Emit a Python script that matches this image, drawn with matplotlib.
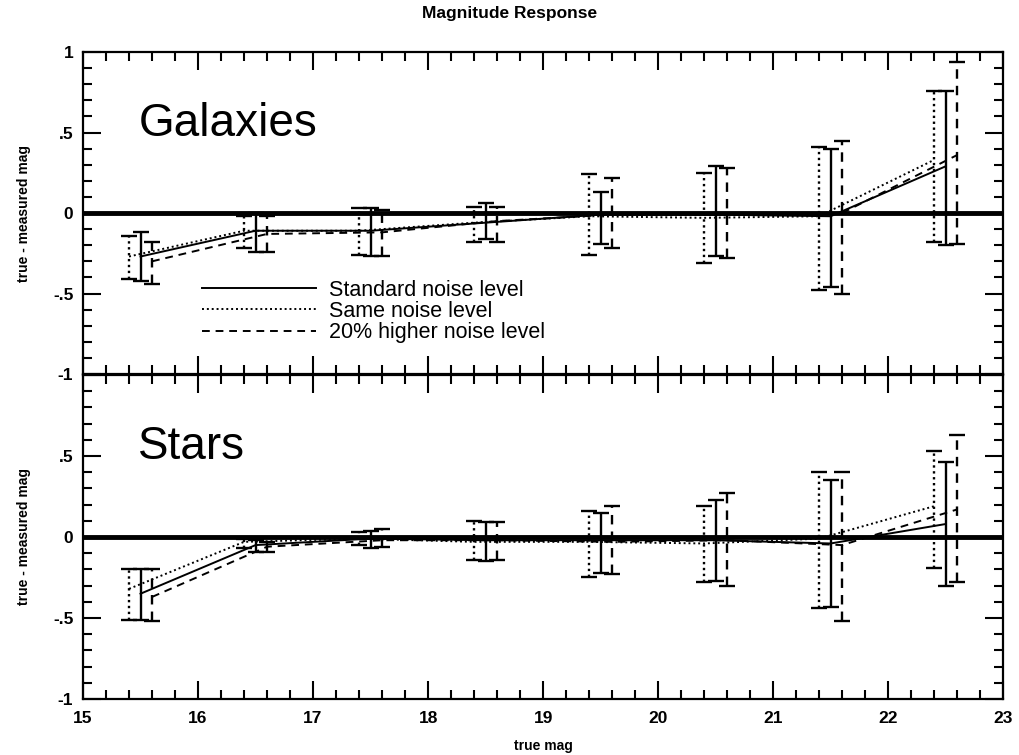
import numpy as np
import matplotlib
matplotlib.use("Agg")
import matplotlib.pyplot as plt
from matplotlib.ticker import MultipleLocator, FixedLocator

plt.rcParams['font.family'] = ['Liberation Sans', 'DejaVu Sans']

# bin centres (true mag)
mag_bins = [15.5, 16.5, 17.5, 18.5, 19.5, 20.5, 21.5, 22.5]

# Galaxies: mean offset and error-bar top/bottom for each noise setting
gal_std = [-0.27, -0.11, -0.11, -0.06, -0.01, -0.01, -0.02, 0.29]
gal_std_hi = [-0.12, 0.00, 0.03, 0.06, 0.13, 0.29, 0.40, 0.76]
gal_std_lo = [-0.42, -0.24, -0.27, -0.16, -0.19, -0.27, -0.46, -0.20]

gal_same = [-0.27, -0.11, -0.11, -0.06, -0.02, -0.03, -0.02, 0.33]
gal_same_hi = [-0.14, -0.02, 0.03, 0.04, 0.24, 0.25, 0.41, 0.76]
gal_same_lo = [-0.41, -0.22, -0.26, -0.18, -0.26, -0.31, -0.48, -0.18]

gal_high = [-0.30, -0.13, -0.12, -0.05, -0.01, -0.01, 0.00, 0.36]
gal_high_hi = [-0.18, -0.02, 0.02, 0.04, 0.22, 0.28, 0.45, 0.94]
gal_high_lo = [-0.44, -0.24, -0.27, -0.18, -0.22, -0.28, -0.50, -0.19]

# Stars
star_std = [-0.35, -0.05, -0.01, -0.02, -0.02, -0.02, -0.04, 0.08]
star_std_hi = [-0.20, -0.02, 0.04, 0.09, 0.15, 0.23, 0.35, 0.46]
star_std_lo = [-0.51, -0.09, -0.07, -0.15, -0.22, -0.27, -0.43, -0.30]

star_same = [-0.32, -0.03, -0.01, -0.03, -0.03, -0.04, -0.01, 0.19]
star_same_hi = [-0.20, -0.01, 0.03, 0.10, 0.16, 0.19, 0.40, 0.53]
star_same_lo = [-0.51, -0.07, -0.05, -0.14, -0.25, -0.28, -0.44, -0.19]

star_high = [-0.37, -0.06, -0.02, -0.02, -0.03, -0.02, -0.05, 0.17]
star_high_hi = [-0.20, -0.03, 0.05, 0.09, 0.19, 0.27, 0.40, 0.63]
star_high_lo = [-0.52, -0.09, -0.06, -0.14, -0.23, -0.30, -0.52, -0.28]

labels = ["Standard noise level", "Same noise level", "20% higher noise level"]
ytick_vals = [-1, -0.5, 0, 0.5, 1]
ytick_text = ["-1", "-.5", "0", ".5", "1"]

DOT = (0, (1, 1.5))
DASH = (0, (4, 3))


def draw_series(ax, x, y, hi, lo, ls, lw, label):
    x = np.asarray(x)
    y = np.asarray(y)
    hi = np.asarray(hi)
    lo = np.asarray(lo)
    ax.plot(x, y, color="k", ls=ls, lw=lw, label=label, zorder=4)
    eb = ax.errorbar(x, y, yerr=[y - lo, hi - y], fmt="none", ecolor="k",
                     elinewidth=1.7, capsize=6, capthick=1.7, zorder=4)
    eb[2][0].set_linestyle(ls)


def style_axes(ax, name):
    ax.set_xlim(15, 23)
    ax.set_ylim(-1, 1)
    ax.axhline(0, color="k", lw=3.5, zorder=3)
    ax.xaxis.set_major_locator(MultipleLocator(1))
    ax.xaxis.set_minor_locator(MultipleLocator(0.2))
    ax.yaxis.set_major_locator(FixedLocator(ytick_vals))
    ax.set_yticklabels(ytick_text)
    ax.yaxis.set_minor_locator(MultipleLocator(0.1))
    ax.tick_params(which="both", direction="in", top=True, right=True,
                   width=1.5, labelsize=12.5)
    ax.tick_params(axis="x", pad=9)
    ax.tick_params(axis="y", pad=7)
    ax.tick_params(which="major", length=13)
    ax.tick_params(which="minor", length=6.5)
    for lab in ax.get_xticklabels() + ax.get_yticklabels():
        lab.set_fontweight("bold")
    for sp in ax.spines.values():
        sp.set_linewidth(1.6)
    ax.set_ylabel("true - measured mag", fontsize=10, fontweight="bold", labelpad=16)
    ax.text(15.48, 0.48, name, fontsize=33, ha="left", va="baseline")


fig = plt.figure(figsize=(10.19, 7.55), dpi=100)
ax1 = fig.add_axes([0.0815, 0.5046, 0.9029, 0.4265])
ax2 = fig.add_axes([0.0815, 0.0742, 0.9029, 0.4291])

xb = np.array(mag_bins)

draw_series(ax1, xb, gal_std, gal_std_hi, gal_std_lo, "-", 1.4, labels[0])
draw_series(ax1, xb - 0.1, gal_same, gal_same_hi, gal_same_lo, DOT, 1.4, labels[1])
draw_series(ax1, xb + 0.1, gal_high, gal_high_hi, gal_high_lo, DASH, 1.4, labels[2])
style_axes(ax1, "Galaxies")
ax1.tick_params(labelbottom=False)

draw_series(ax2, xb, star_std, star_std_hi, star_std_lo, "-", 1.4, labels[0])
draw_series(ax2, xb - 0.1, star_same, star_same_hi, star_same_lo, DOT, 1.4, labels[1])
draw_series(ax2, xb + 0.1, star_high, star_high_hi, star_high_lo, DASH, 1.4, labels[2])
style_axes(ax2, "Stars")
ax2.yaxis.get_major_ticks()[-1].label1.set_visible(False)
ax2.set_xlabel("true mag", fontsize=10, fontweight="bold", labelpad=9)

ax1.legend(loc="upper left", bbox_to_anchor=(0.12, 0.32), frameon=False,
           fontsize=15.5, handlelength=5.3, handletextpad=0.6, labelspacing=0.02,
           borderaxespad=0)

fig.suptitle("Magnitude Response", x=0.5, y=0.992, fontsize=12.5, fontweight="bold")

fig.savefig("out.png", dpi=100)
